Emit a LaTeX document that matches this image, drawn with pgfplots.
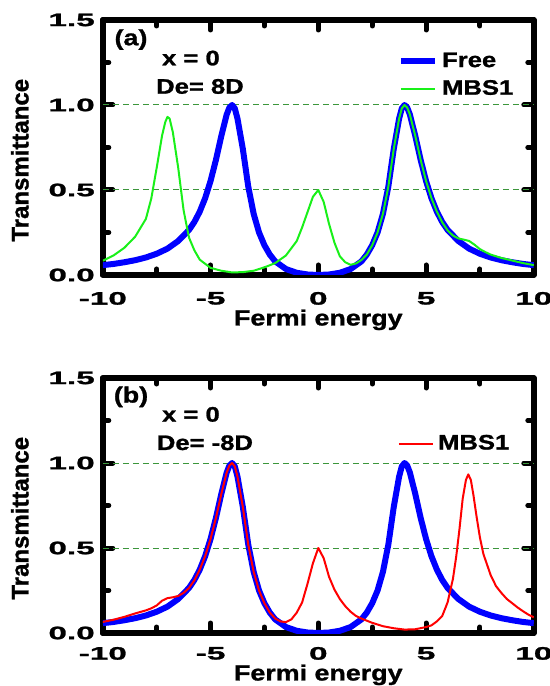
\documentclass[border=0pt]{standalone}
\usepackage{fontspec}
\setmainfont{Liberation Sans}[FakeStretch=1.22, FakeBold=1.2]
\newfontfamily\tickfont{Liberation Sans}[FakeStretch=1.85, FakeBold=1.5]
\newfontfamily\yfont{Liberation Sans}[FakeBold=1.2]
\usepackage{pgfplots}
\pgfplotsset{compat=1.18}
\usepackage{pgfplotstable}

\definecolor{mygreen}{RGB}{25,240,25}
\definecolor{gridgreen}{RGB}{60,150,60}

\pgfplotstableread{
E T
-10 0.058
-9.5 0.065
-9 0.075
-8.5 0.087
-8 0.103
-7.5 0.125
-7 0.155
-6.5 0.200
-6 0.265
-5.75 0.312
-5.5 0.373
-5.25 0.452
-5 0.553
-4.75 0.677
-4.5 0.818
-4.25 0.944
-4.125 0.985
-4 1.000
-3.875 0.980
-3.75 0.920
-3.5 0.740
-3.25 0.520
-3 0.360
-2.75 0.250
-2.5 0.175
-2.25 0.120
-2 0.080
-1.5 0.035
-1 0.013
-0.5 0.003
0 0.0
0.5 0.003
1 0.013
1.5 0.035
2 0.080
2.25 0.120
2.5 0.175
2.75 0.250
3 0.360
3.25 0.520
3.5 0.740
3.75 0.920
3.875 0.980
4 1.000
4.125 0.985
4.25 0.944
4.5 0.818
4.75 0.677
5 0.553
5.25 0.452
5.5 0.373
5.75 0.312
6 0.265
6.5 0.200
7 0.155
7.5 0.125
8 0.103
8.5 0.087
9 0.075
9.5 0.065
10 0.058
}\freetable

\pgfplotstableread{
E T
-10 0.084
-9.5 0.115
-9 0.16
-8.5 0.225
-8 0.33
-7.75 0.45
-7.5 0.63
-7.25 0.82
-7.1 0.9
-7 0.93
-6.9 0.92
-6.75 0.84
-6.5 0.63
-6.25 0.38
-6 0.22
-5.75 0.145
-5.5 0.09
-5 0.042
-4.5 0.025
-4 0.015
-3.5 0.017
-3 0.025
-2.5 0.045
-2 0.07
-1.5 0.115
-1 0.2
-0.75 0.28
-0.5 0.37
-0.25 0.46
0 0.5
0.25 0.43
0.5 0.3
0.75 0.19
1 0.11
1.25 0.075
1.5 0.06
1.75 0.068
2 0.088
2.25 0.12
2.5 0.175
2.75 0.25
3 0.36
3.25 0.52
3.5 0.74
3.75 0.92
3.875 0.98
4 1.0
4.125 0.985
4.25 0.944
4.5 0.818
4.75 0.677
5 0.553
5.25 0.452
5.5 0.373
5.75 0.31
6 0.262
6.25 0.232
6.5 0.215
6.75 0.208
7 0.2
7.25 0.178
7.5 0.152
7.75 0.135
8 0.12
8.5 0.1
9 0.085
9.5 0.07
10 0.058
}\mbsatable

\pgfplotstableread{
E T
-10 0.065
-9.5 0.078
-9 0.095
-8.5 0.115
-8 0.133
-7.75 0.145
-7.5 0.162
-7.25 0.19
-7 0.205
-6.75 0.21
-6.5 0.218
-6.25 0.236
-6 0.265
-5.75 0.31
-5.5 0.373
-5.25 0.452
-5 0.553
-4.75 0.677
-4.5 0.818
-4.25 0.944
-4.125 0.985
-4 1.0
-3.875 0.98
-3.75 0.92
-3.5 0.74
-3.25 0.52
-3 0.36
-2.75 0.25
-2.5 0.175
-2.25 0.12
-2 0.085
-1.75 0.068
-1.5 0.064
-1.25 0.08
-1 0.12
-0.75 0.18
-0.5 0.29
-0.25 0.41
0 0.5
0.25 0.44
0.5 0.33
0.75 0.255
1 0.2
1.25 0.158
1.5 0.125
1.75 0.1
2 0.085
2.5 0.06
3 0.04
3.5 0.028
4 0.02
4.5 0.022
5 0.035
5.25 0.045
5.5 0.068
5.75 0.1
6 0.18
6.25 0.32
6.4 0.45
6.55 0.61
6.7 0.79
6.85 0.9
6.96 0.933
7.08 0.9
7.2 0.81
7.35 0.68
7.5 0.562
7.66 0.465
8 0.34
8.25 0.275
8.5 0.235
8.75 0.2
9 0.175
9.25 0.15
9.5 0.128
9.75 0.108
10 0.092
}\mbsbtable

\pgfplotsset{
  panel/.style={
    scale only axis, width=215.5pt, height=127.5pt,
    xmin=-10, xmax=10, ymin=0, ymax=1.5,
    xtick={-10,-5,0,5,10}, minor xtick={-7.5,-2.5,2.5,7.5},
    ytick={0,0.5,1,1.5}, minor ytick={0.25,0.75,1.25},
    tick align=inside,
    axis line style={line width=3pt, line cap=round},
    every tick/.style={black, line width=2.5pt, line cap=round},
    major tick length=5pt, minor tick length=3pt,
    /pgf/number format/assume math mode=true,
    tick label style={font=\tickfont\bfseries\fontsize{9}{9}\selectfont},
    yticklabel style={xshift=-0.5pt, /pgf/number format/.cd, fixed, fixed zerofill, precision=1},
    xlabel={Fermi energy}, ylabel={Transmittance},
    ylabel style={font=\yfont\bfseries\fontsize{12}{12}\selectfont, at={(ticklabel cs:0.45)}},
    ylabel shift=3pt,
    legend style={draw=none, fill=none, font=\bfseries\fontsize{10.5}{10.5}\selectfont,
      legend cell align=left, row sep=1pt},
    line join=round,
  }
}

\begin{document}
\begin{tikzpicture}
\path[use as bounding box] (0,0) rectangle (275pt,343pt);
% panel (a)
\begin{axis}[panel, at={(51.4pt,205.5pt)}, anchor=south west,
  xticklabel style={yshift=-5pt},
  xlabel style={font=\bfseries\fontsize{11}{11}\selectfont, yshift=4.5pt},
  legend style={at={(rel axis cs:0.67,0.905)}, anchor=north west}]
\addplot[gridgreen, densely dashed, line width=0.5pt, forget plot] coordinates {(-10,0.5) (10,0.5)};
\addplot[gridgreen, densely dashed, line width=0.5pt, forget plot] coordinates {(-10,1) (10,1)};
\addplot[blue, line width=3pt] table[x=E, y=T] {\freetable};
\addlegendentry{Free}
\addplot[mygreen, line width=1pt] table[x=E, y=T] {\mbsatable};
\addlegendentry{MBS1}
\node[font=\bfseries\fontsize{11}{11}\selectfont] at (axis cs:-8.69,1.385) {(a)};
\node[font=\bfseries\fontsize{10.5}{10.5}\selectfont] at (axis cs:-5.91,1.276) {x = 0};
\node[font=\bfseries\fontsize{10.5}{10.5}\selectfont] at (axis cs:-5.49,1.109) {De= 8D};
\end{axis}
% panel (b)
\begin{axis}[panel, at={(51.4pt,26.5pt)}, anchor=south west,
  xticklabel style={yshift=-3.5pt},
  xlabel style={font=\bfseries\fontsize{11}{11}\selectfont, yshift=4.5pt},
  legend style={at={(rel axis cs:0.67,0.81)}, anchor=north west}]
\addplot[gridgreen, densely dashed, line width=0.5pt, forget plot] coordinates {(-10,0.5) (10,0.5)};
\addplot[gridgreen, densely dashed, line width=0.5pt, forget plot] coordinates {(-10,1) (10,1)};
\addplot[blue, line width=3pt, forget plot] table[x=E, y=T] {\freetable};
\addplot[red, line width=1pt] table[x=E, y=T] {\mbsbtable};
\addlegendentry{MBS1}
\node[font=\bfseries\fontsize{11}{11}\selectfont] at (axis cs:-8.69,1.389) {(b)};
\node[font=\bfseries\fontsize{10.5}{10.5}\selectfont] at (axis cs:-5.91,1.286) {x = 0};
\node[font=\bfseries\fontsize{10.5}{10.5}\selectfont] at (axis cs:-5.26,1.119) {De= -8D};
\end{axis}
\end{tikzpicture}
\end{document}
